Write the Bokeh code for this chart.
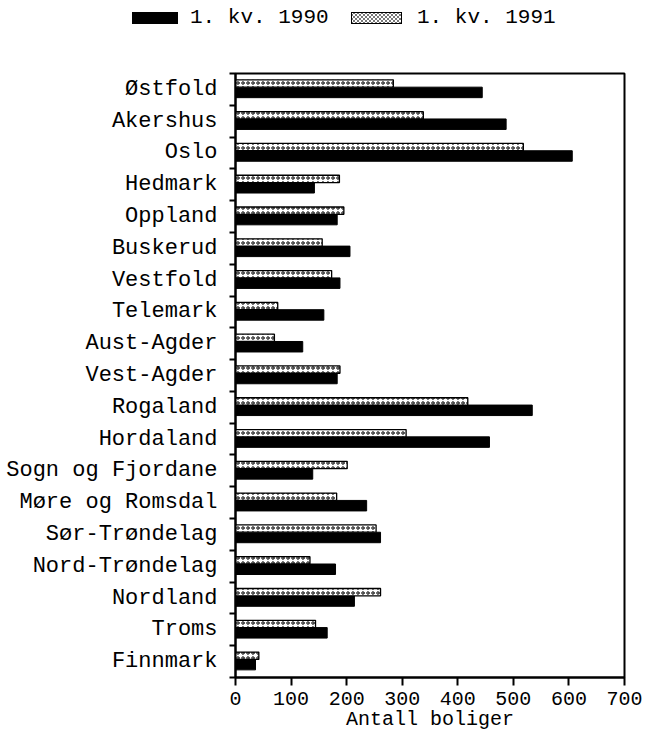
from bokeh.plotting import figure
from bokeh.models import Range1d, FixedTicker, ColumnDataSource, Div
from bokeh.layouts import column
from bokeh.transform import dodge
from bokeh.embed import file_html
from bokeh.resources import INLINE

counties = ["Østfold", "Akershus", "Oslo", "Hedmark", "Oppland", "Buskerud",
            "Vestfold", "Telemark", "Aust-Agder", "Vest-Agder", "Rogaland",
            "Hordaland", "Sogn og Fjordane", "Møre og Romsdal", "Sør-Trøndelag",
            "Nord-Trøndelag", "Nordland", "Troms", "Finnmark"]
v1990 = [444, 487, 606, 142, 183, 206, 188, 159, 121, 183, 534, 457, 139, 236, 261, 180, 214, 165, 36]
v1991 = [284, 338, 518, 187, 195, 156, 173, 76, 70, 188, 418, 307, 201, 182, 253, 134, 261, 144, 42]
x_ticks = [0, 100, 200, 300, 400, 500, 600, 700]
series_labels = ["1. kv. 1990", "1. kv. 1991"]
x_title = "Antall boliger"

n = len(counties)
pos = [n - 1 - i for i in range(n)]
src = ColumnDataSource(dict(county=counties, y=pos, v1990=v1990, v1991=v1991))

FONT = "Liberation Mono"

# ---- main chart ----
p = figure(frame_width=389, frame_height=604,
           min_border_left=235, min_border_right=24,
           min_border_top=43, min_border_bottom=0,
           x_range=Range1d(0, 700), y_range=Range1d(-0.5, n - 0.5),
           output_backend="svg", toolbar_location=None,
           background_fill_color="white", border_fill_color="white")

p.hbar(y=dodge("y", -0.095), height=0.33, left=0, right="v1990", source=src,
       fill_color="black", line_color="black", line_width=1)
p.hbar(y=dodge("y", 0.185), height=0.23, left=0, right="v1991", source=src,
       fill_color="white", line_color="black", line_width=1.3,
       hatch_pattern="ring", hatch_color="black", hatch_scale=5, hatch_weight=1)

p.xgrid.grid_line_color = None
p.ygrid.grid_line_color = None
p.outline_line_color = "black"
p.outline_line_width = 2

xa = p.xaxis[0]
xa.ticker = FixedTicker(ticks=x_ticks)
xa.axis_line_width = 2
xa.major_tick_line_width = 2
xa.major_tick_out = 8
xa.major_tick_in = 0
xa.minor_tick_line_color = None
xa.major_label_text_font = FONT
xa.major_label_text_font_size = "20px"
xa.major_label_text_color = "black"
xa.major_label_standoff = 6
xa.axis_label = x_title
xa.axis_label_text_font = FONT
xa.axis_label_text_font_size = "20px"
xa.axis_label_text_font_style = "normal"
xa.axis_label_text_color = "black"
xa.axis_label_standoff = 0

ya = p.yaxis[0]
ya.ticker = FixedTicker(ticks=pos, minor_ticks=[k + 0.5 for k in range(-1, n)])
ya.major_label_overrides = {y: c for y, c in zip(pos, counties)}
ya.axis_line_width = 2
ya.major_tick_line_color = None
ya.major_tick_out = 0
ya.major_tick_in = 0
ya.minor_tick_out = 6
ya.minor_tick_in = 0
ya.minor_tick_line_width = 2
ya.major_label_text_font = FONT
ya.major_label_text_font_size = "22px"
ya.major_label_text_color = "black"
ya.major_label_standoff = 12

# ---- legend strip (above the chart) ----
swatch_black = ("position:absolute; left:132px; top:12px; width:46px; height:12px; "
                "background:black;")
swatch_hatch = ("position:absolute; left:351px; top:12px; width:51px; height:12px; "
                "box-sizing:border-box; border:1.5px solid black; background-color:white; "
                "background-image:radial-gradient(circle, transparent 0.8px, black 1.3px, transparent 1.9px); "
                "background-size:4px 4px;")
text_css = ("position:absolute; top:6px; line-height:24px; white-space:nowrap; "
            f"font-family:'{FONT}'; font-size:21px; color:black;")
legend_html = (
    '<div style="position:relative; width:648px; height:30px;">'
    f'<span style="{swatch_black}"></span>'
    f'<span style="{text_css} left:190px;">{series_labels[0]}</span>'
    f'<span style="{swatch_hatch}"></span>'
    f'<span style="{text_css} left:417px;">{series_labels[1]}</span>'
    '</div>'
)
legend_div = Div(text=legend_html, width=648, height=30, margin=0)

page = column(legend_div, p, spacing=0)
open("out.html", "w").write(file_html(page, INLINE))
